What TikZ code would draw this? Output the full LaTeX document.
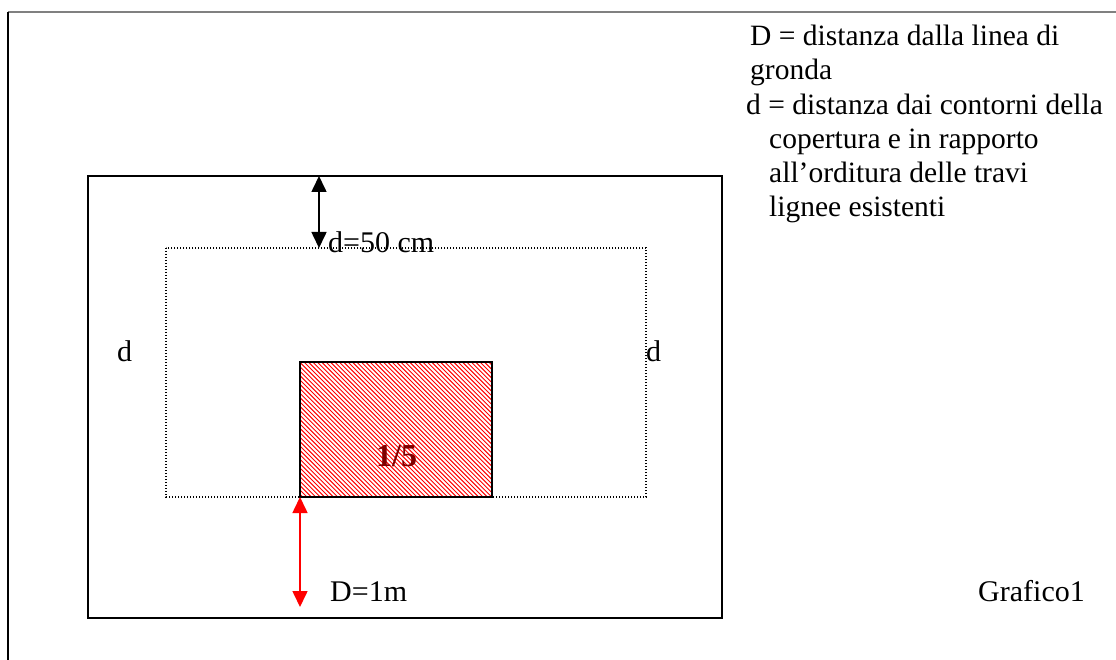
\documentclass[tikz,border=0pt]{standalone}
\usepackage{fontspec}
\setmainfont{Liberation Serif}
\usetikzlibrary{arrows.meta}
\definecolor{darkred}{HTML}{800000}
\definecolor{framegray}{HTML}{808080}
\tikzset{
  lbl/.style={anchor=base west, inner sep=0pt, font=\fontsize{30}{32}\selectfont},
  legend/.style={anchor=base west, inner sep=0pt, font=\fontsize{29.5}{32}\selectfont},
  dimarrow/.style={line width=1.6pt, {Triangle[length=16pt,width=15pt]}-{Triangle[length=16pt,width=15pt]}},
  hatch/.style={red, line width=0.95pt},
}
\begin{document}
\begin{tikzpicture}[x=1pt,y=-1pt]
\useasboundingbox (0,0) rectangle (1116,660);
% page frame
\draw[framegray, line width=2pt] (8,12) -- (1116,12);
\draw[black, line width=1.5pt] (8,12) -- (8,660);
% outer roof outline
\draw[line width=1.8pt] (88,176) rectangle (722,618);
% dotted inner boundary
\draw[line width=1.3pt, dash pattern=on 1.3pt off 1.7pt] (166,248) rectangle (646,497);
% hatched opening
\begin{scope}
  \clip (300,362) rectangle (492,497);
  \foreach \i in {150,154.4,...,500} \draw[hatch] (\i,362) -- ++(140,140);
\end{scope}
\draw[line width=1.8pt] (300,362) rectangle (492,497);
% connector endpoints
\coordinate (topA) at (319,176);
\coordinate (topB) at (319,248);
\coordinate (botA) at (300,497);
\coordinate (botB) at (300,607);
\draw[dimarrow] (topA) -- (topB);
\draw[dimarrow, red] (botA) -- (botB);
% labels
\node[lbl] (d50) at (328,253) {d=50 cm};
\node[lbl] (dl) at (117,361) {d};
\node[lbl] (dr) at (646,361) {d};
\node[lbl, text=darkred, font=\fontsize{32}{34}\selectfont\bfseries] (fifth) at (376,466) {1/5};
\node[lbl] (D1m) at (330,601) {D=1m};
\node[lbl] (graf) at (978,601) {Grafico1};
\node[legend] (l1) at (750,46) {D = distanza dalla linea di};
\node[legend] (l2) at (750,80) {gronda};
\node[legend] (l3) at (746,114.5) {d = distanza dai contorni della};
\node[legend] (l4) at (769,148.5) {copertura e in rapporto};
\node[legend] (l5) at (769,183) {all’orditura delle travi};
\node[legend] (l6) at (769,217) {lignee esistenti};
\end{tikzpicture}
\end{document}
